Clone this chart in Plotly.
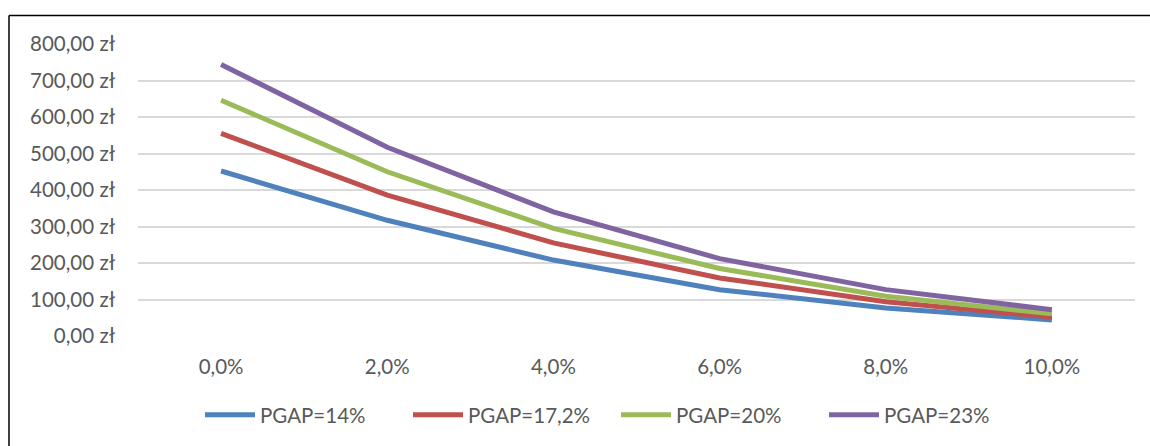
import plotly.graph_objects as go

categories = ["0,0%", "2,0%", "4,0%", "6,0%", "8,0%", "10,0%"]
series_names = ["PGAP=14%", "PGAP=17,2%", "PGAP=20%", "PGAP=23%"]
pgap_14 = [452, 317, 208, 127, 77, 44]
pgap_17_2 = [555, 386, 255, 159, 94, 52]
pgap_20 = [646, 450, 295, 185, 109, 61]
pgap_23 = [744, 517, 340, 212, 127, 72]
colors = ["#4F81BD", "#C0504D", "#9BBB59", "#8064A2"]
y_ticks = [0, 100, 200, 300, 400, 500, 600, 700, 800]
y_tick_text = [f"{v},00 zł" for v in y_ticks]

font_family = "Lato, 'Open Sans', sans-serif"
grey = "#595959"
fsize = 20.5

fig = go.Figure()
xs = list(range(len(categories)))
for name, vals, col in zip(series_names, [pgap_14, pgap_17_2, pgap_20, pgap_23], colors):
    fig.add_trace(go.Scatter(x=xs, y=vals, mode="lines", name=name,
                             line=dict(color=col, width=5)))

fig.update_layout(
    width=1150, height=446,
    margin=dict(l=138, r=15, t=44, b=110),
    paper_bgcolor="white", plot_bgcolor="white",
    font=dict(family=font_family, size=fsize, color=grey),
    showlegend=True,
    legend=dict(orientation="h", xref="container", yref="container",
                x=200 / 1150, xanchor="left", y=31 / 446, yanchor="middle",
                font=dict(size=fsize, color=grey), itemwidth=50,
                tracegroupgap=0, entrywidth=143, entrywidthmode="pixels"),
    xaxis=dict(tickmode="array", tickvals=xs, ticktext=categories,
               range=[-0.5, 5.5], showgrid=False, zeroline=False,
               showline=False, ticks="", ticklabelstandoff=16,
               tickfont=dict(size=fsize, color=grey)),
    yaxis=dict(tickmode="array", tickvals=y_ticks, ticktext=y_tick_text,
               range=[0, 800], showgrid=True, gridcolor="#D9D9D9", gridwidth=1.5,
               zeroline=False, showline=False, ticks="", ticklabelstandoff=22,
               tickfont=dict(size=fsize, color=grey)),
    shapes=[
        dict(type="line", xref="paper", yref="paper", x0=-0.1294, x1=1.02,
             y0=1.0978, y1=1.0978, line=dict(color="black", width=1.5)),
        dict(type="line", xref="paper", yref="paper", x0=-0.1294, x1=-0.1294,
             y0=1.0978, y1=-0.4, line=dict(color="black", width=1.5)),
    ],
)

fig.write_html("out.html", config={"displayModeBar": False},
               post_script="document.body.style.margin='0';document.body.style.padding='0';")
